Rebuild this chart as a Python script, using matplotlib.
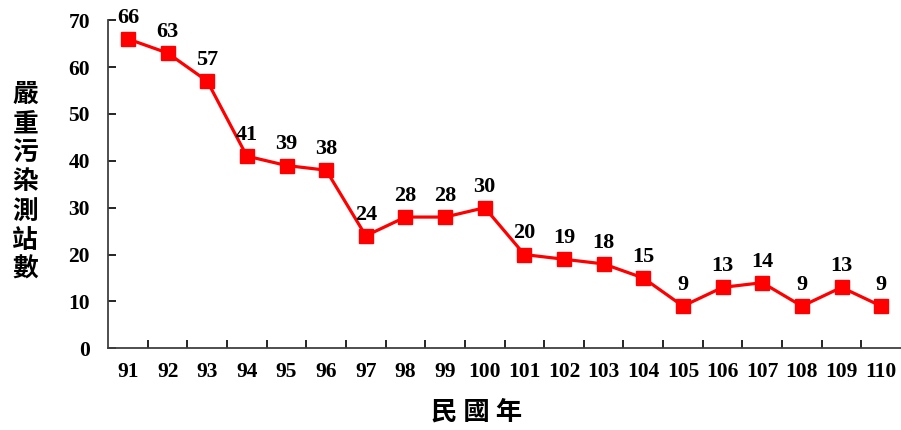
import matplotlib.pyplot as plt

# 嚴重污染測站數 (民國91-110年)
years = list(range(91, 111))
stations = [66, 63, 57, 41, 39, 38, 24, 28, 28, 30, 20, 19, 18, 15, 9, 13, 14, 9, 13, 9]

num_font = "Liberation Serif"
cjk_font = ["Noto Sans CJK TC", "DejaVu Sans"]

fig = plt.figure(figsize=(9.01, 4.30), dpi=100)
ax = fig.add_axes([0.12, 0.19, 0.88, 0.763])

x = range(len(years))
ax.plot(x, stations, color="#ff0000", lw=2.3, marker="s", ms=10,
        markerfacecolor="#ff0000", markeredgecolor="#ff0000")

for i, v in enumerate(stations):
    ax.annotate(str(v), (i, v), xytext=(0, 8), textcoords="offset points",
                ha="center", va="bottom", fontsize=16, fontweight="bold",
                family=num_font)

ax.set_xlim(-0.5, len(years) - 0.5)
ax.set_ylim(0, 70)
ax.set_yticks(range(0, 71, 10))
ax.set_xticks([i + 0.5 for i in range(len(years) - 1)])
ax.set_xticklabels([])
ax.set_xticks(list(x), minor=True)
ax.set_xticklabels([str(y) for y in years], minor=True)

ax.tick_params(axis="x", which="major", direction="in", length=6, width=1.2)
ax.tick_params(axis="x", which="minor", length=0, pad=10)
ax.tick_params(axis="y", direction="in", length=6, width=1.2, pad=13)
for lbl in ax.get_xticklabels(minor=True) + ax.get_yticklabels():
    lbl.set_fontfamily(num_font)
    lbl.set_fontweight("bold")
    lbl.set_fontsize(15.5)

for s in ["top", "right"]:
    ax.spines[s].set_visible(False)
for s in ["left", "bottom"]:
    ax.spines[s].set_linewidth(1.3)
    ax.spines[s].set_color("#404040")

fig.text(0.028, 0.577, "\n".join("嚴重污染測站數"), ha="center", va="center",
         fontsize=18.5, fontweight="bold", family=cjk_font, linespacing=1.1)
fig.text(0.529, 0.042, "民 國 年", ha="center", va="center",
         fontsize=19, fontweight="bold", family=cjk_font)

fig.savefig("out.png", dpi=100)
